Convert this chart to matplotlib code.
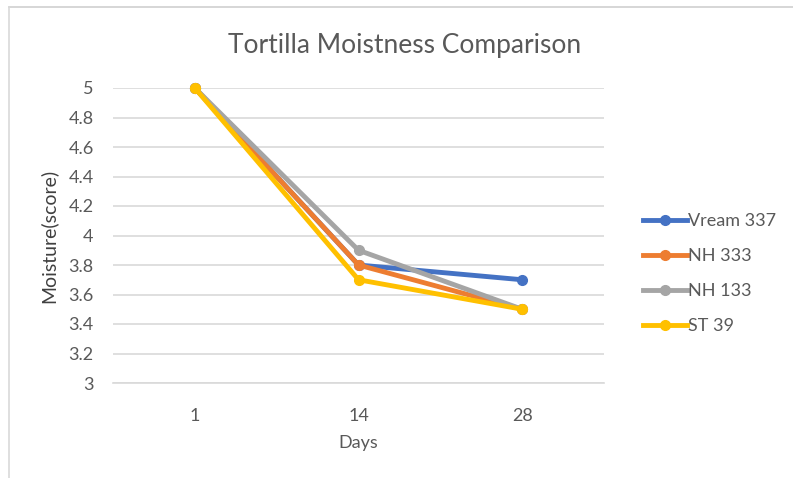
import matplotlib.pyplot as plt
from matplotlib.lines import Line2D

days = ['1', '14', '28']
vream_337 = [5.0, 3.8, 3.7]
nh_333 = [5.0, 3.8, 3.5]
nh_133 = [5.0, 3.9, 3.5]
st_39 = [5.0, 3.7, 3.5]
y_ticks = [3, 3.2, 3.4, 3.6, 3.8, 4, 4.2, 4.4, 4.6, 4.8, 5]

series = [
  ('Vream 337', vream_337, '#4472C4'),
  ('NH 333', nh_333, '#ED7D31'),
  ('NH 133', nh_133, '#A5A5A5'),
  ('ST 39', st_39, '#FFC000'),
]

plt.rcParams['font.family'] = ['Lato', 'DejaVu Sans']
text_c = '#595959'

fig = plt.figure(figsize=(7.93, 4.78), dpi=100)
ax = fig.add_axes([113 / 793, 1 - 383 / 478, (604 - 113) / 793, (383 - 88) / 478])

x = list(range(len(days)))
for name, vals, col in series:
  ax.plot(x, vals, color=col, lw=3.5, marker='o', ms=7, clip_on=False,
          solid_joinstyle='round', label=name)

ax.set_xlim(-0.5, len(days) - 0.5)
ax.set_ylim(3, 5)
ax.set_xticks(x)
ax.set_xticklabels(days)
ax.set_yticks(y_ticks)
ax.set_yticklabels([f'{v:g}' for v in y_ticks])
ax.grid(axis='y', color='#D9D9D9', lw=1.2)
ax.set_axisbelow(True)
for s in ['top', 'right', 'left']:
  ax.spines[s].set_visible(False)
ax.spines['bottom'].set_color('#D9D9D9')
ax.spines['bottom'].set_linewidth(1.2)
ax.tick_params(length=0, colors=text_c, labelsize=13)
ax.tick_params(axis='x', pad=18)
ax.tick_params(axis='y', pad=14)

ax.set_xlabel('Days', color=text_c, fontsize=13, labelpad=8)
ax.set_ylabel('Moisture(score)', color='#404040', fontsize=14, labelpad=8)
fig.text(405 / 793, 1 - 45 / 478, 'Tortilla Moistness Comparison', ha='center',
         va='center', fontsize=19, color=text_c)

handles = [Line2D([0], [0], color=c, lw=3.5, marker='o', ms=7) for _, _, c in series]
fig.legend(handles, [n for n, _, _ in series], loc='upper left',
           bbox_to_anchor=(636 / 793, 1 - 206 / 478), frameon=False,
           fontsize=13, labelcolor=text_c, handlelength=2.4, handletextpad=0.1,
           labelspacing=1.05, borderaxespad=0)

# chart border
fig.add_artist(Line2D([9 / 793, 1], [1 - 7 / 478, 1 - 7 / 478], color='#D0D0D0', lw=1.2))
fig.add_artist(Line2D([9 / 793, 9 / 793], [0, 1 - 7 / 478], color='#D9D9D9', lw=1.2))

fig.savefig('out.png', dpi=100)
